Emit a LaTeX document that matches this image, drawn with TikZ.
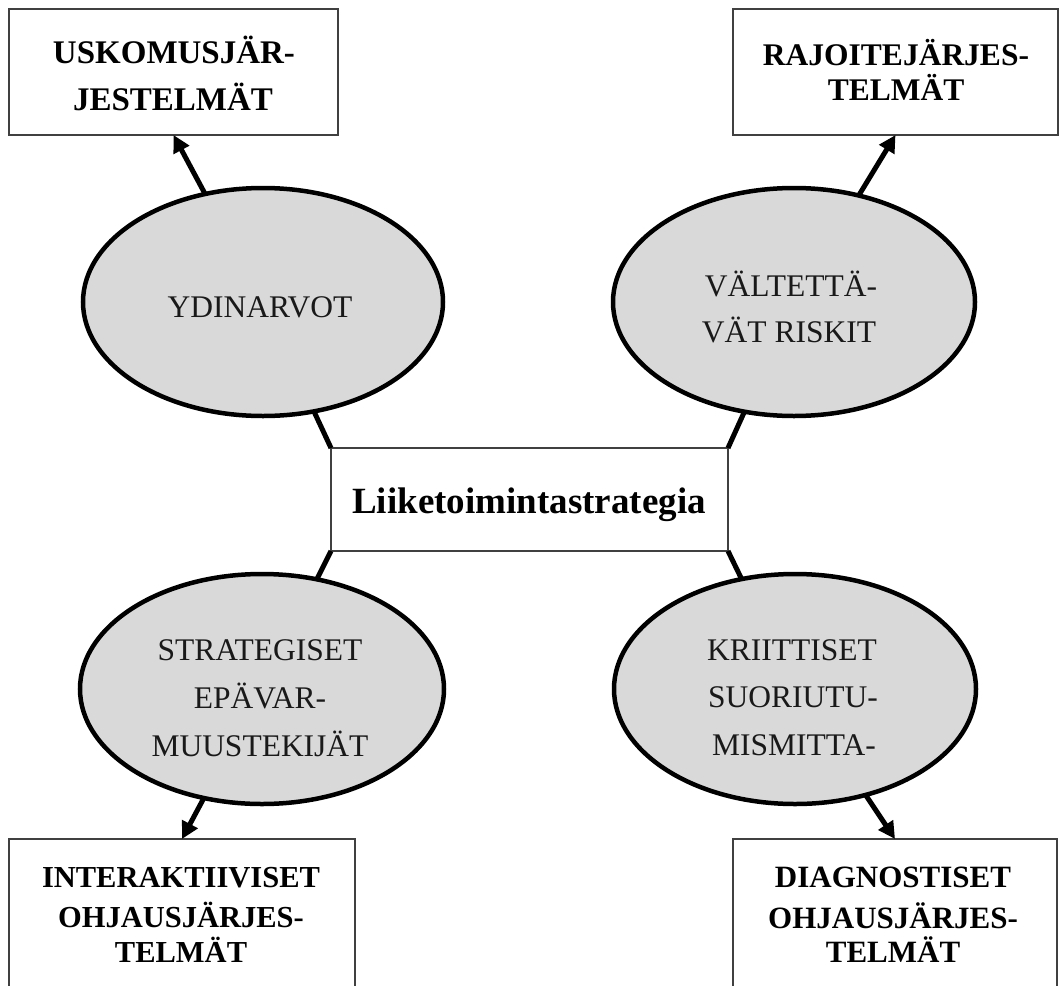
\documentclass[tikz,border=0pt]{standalone}
\usepackage{fontspec}
\setmainfont{Liberation Serif}
\usetikzlibrary{shapes.geometric,arrows.meta}

\tikzset{
  framebox/.style={draw=black!75, line width=1.2pt, fill=white, rectangle,
    inner sep=0pt, outer sep=0pt},
  oval/.style={ellipse, draw=black, line width=4.5pt, fill=black!15,
    inner sep=0pt, outer sep=0pt},
  boxtxt/.style={anchor=base, inner sep=0pt, text=black,
    font=\bfseries\fontsize{#1}{#1}\selectfont},
  boxtxt/.default=31,
  ovaltxt/.style={anchor=base, inner sep=0pt, text=black!90,
    font=\fontsize{#1}{#1}\selectfont},
  ovaltxt/.default=31.5,
  link/.style={draw=black, line width=5pt},
  arrowlink/.style={link, -{Triangle[length=17pt,width=17pt]}}
}

\begin{document}
\begin{tikzpicture}[x=1pt, y=-1pt]
  \useasboundingbox (0,0) rectangle (1059,985);
  \clip (0,0) rectangle (1059,985);

  % central strategy box
  \node[framebox, minimum width=397pt, minimum height=103pt] (c) at (529.5,499.5) {};
  \node[boxtxt=37] (ctxt) at (529,513) {Liiketoimintastrategia};

  % outer control system boxes
  \node[framebox, minimum width=329pt, minimum height=126pt] (ul) at (173.5,72) {};
  \node[framebox, minimum width=325pt, minimum height=126pt] (ur) at (895.5,72) {};
  \node[framebox, minimum width=346pt, minimum height=154pt] (bl) at (182,916) {};
  \node[framebox, minimum width=324pt, minimum height=154pt] (br) at (895,916) {};

  \node[boxtxt=33] (ul1) at (174,63) {USKOMUSJÄR-};
  \node[boxtxt=33] (ul2) at (173,110) {JESTELMÄT};

  \node[boxtxt=31.5] (ur1) at (896,65) {RAJOITEJÄRJES-};
  \node[boxtxt=31.5] (ur2) at (896,100) {TELMÄT};

  \node[boxtxt=30.5] (bl1) at (181,887) {INTERAKTIIVISET};
  \node[boxtxt=30.5] (bl2) at (181,927) {OHJAUSJÄRJES-};
  \node[boxtxt=30.5] (bl3) at (181,962) {TELMÄT};

  \node[boxtxt=31] (br1) at (893,887) {DIAGNOSTISET};
  \node[boxtxt=31] (br2) at (893,928) {OHJAUSJÄRJES-};
  \node[boxtxt=31] (br3) at (893,962) {TELMÄT};

  % the four levers (ellipses)
  \node[oval, minimum width=360pt, minimum height=228pt] (e1) at (263,302) {};
  \node[oval, minimum width=362pt, minimum height=228pt] (e2) at (794,302) {};
  \node[oval, minimum width=364pt, minimum height=230pt] (e3) at (262,689) {};
  \node[oval, minimum width=362pt, minimum height=230pt] (e4) at (795,689) {};

  \node[ovaltxt] (e1a) at (260,317) {YDINARVOT};

  \node[ovaltxt] (e2a) at (791,296) {VÄLTETTÄ-};
  \node[ovaltxt] (e2b) at (789,342) {VÄT RISKIT};

  \node[ovaltxt] (e3a) at (260,660) {STRATEGISET};
  \node[ovaltxt] (e3b) at (260,708) {EPÄVAR-};
  \node[ovaltxt] (e3c) at (260,756) {MUUSTEKIJÄT};

  \node[ovaltxt] (e4a) at (792,660) {KRIITTISET};
  \node[ovaltxt] (e4b) at (793,707) {SUORIUTU-};
  \node[ovaltxt] (e4c) at (794,755) {MISMITTA-};

  % strategy box to levers
  \draw[link] (c.north west) -- (e1);
  \draw[link] (c.north east) -- (e2);
  \draw[link] (c.south west) -- (e3);
  \draw[link] (c.south east) -- (e4);

  % levers to control systems
  \draw[arrowlink] (e1) -- (ul.south);
  \draw[arrowlink] (e2) -- (ur.south);
  \draw[arrowlink] (e3) -- (bl.north);
  \draw[arrowlink] (e4) -- (br.north);
\end{tikzpicture}
\end{document}
